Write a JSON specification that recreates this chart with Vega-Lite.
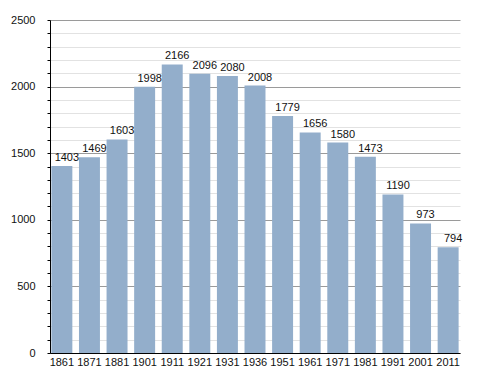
{
  "$schema": "https://vega.github.io/schema/vega-lite/v6.json",
  "autosize": "none",
  "width": 410,
  "height": 333,
  "padding": {"left": 50, "top": 20, "right": 28, "bottom": 20},
  "background": "white",
  "config": {"view": {"stroke": null}, "font": "Liberation Sans"},
  "data": {"values": [
    {"year": "1861", "pop": 1403},
    {"year": "1871", "pop": 1469},
    {"year": "1881", "pop": 1603},
    {"year": "1901", "pop": 1998},
    {"year": "1911", "pop": 2166},
    {"year": "1921", "pop": 2096},
    {"year": "1931", "pop": 2080},
    {"year": "1936", "pop": 2008},
    {"year": "1951", "pop": 1779},
    {"year": "1961", "pop": 1656},
    {"year": "1971", "pop": 1580},
    {"year": "1981", "pop": 1473},
    {"year": "1991", "pop": 1190},
    {"year": "2001", "pop": 973},
    {"year": "2011", "pop": 794}
  ]},
  "encoding": {
    "x": {"field": "year", "type": "ordinal", "sort": null,
      "scale": {"paddingInner": 0.24, "paddingOuter": 0.05},
      "axis": {"title": null, "labelAngle": 0, "ticks": false, "domainColor": "#000", "labelColor": "#111", "labelFontSize": 11, "labelPadding": 3}},
    "y": {"field": "pop", "type": "quantitative",
      "scale": {"domain": [0, 2500], "nice": false},
      "axis": {"title": null,
        "values": [0,100,200,300,400,500,600,700,800,900,1000,1100,1200,1300,1400,1500,1600,1700,1800,1900,2000,2100,2200,2300,2400,2500],
        "labelExpr": "datum.value % 500 === 0 ? datum.label : ''",
        "format": "d",
        "gridColor": {"condition": {"test": "datum.value % 500 === 0", "value": "#9a9a9a"}, "value": "#e2e2e2"},
        "domainColor": "#000", "tickColor": "#000", "tickSize": 3,
        "labelColor": "#111", "labelFontSize": 11, "labelPadding": 12}}
  },
  "layer": [
    {"mark": {"type": "bar", "color": "#93aecb"}},
    {"mark": {"type": "text", "baseline": "bottom", "dy": -3, "dx": 5, "fontSize": 11, "color": "#111"},
      "encoding": {"text": {"field": "pop", "type": "quantitative"}}}
  ]
}
